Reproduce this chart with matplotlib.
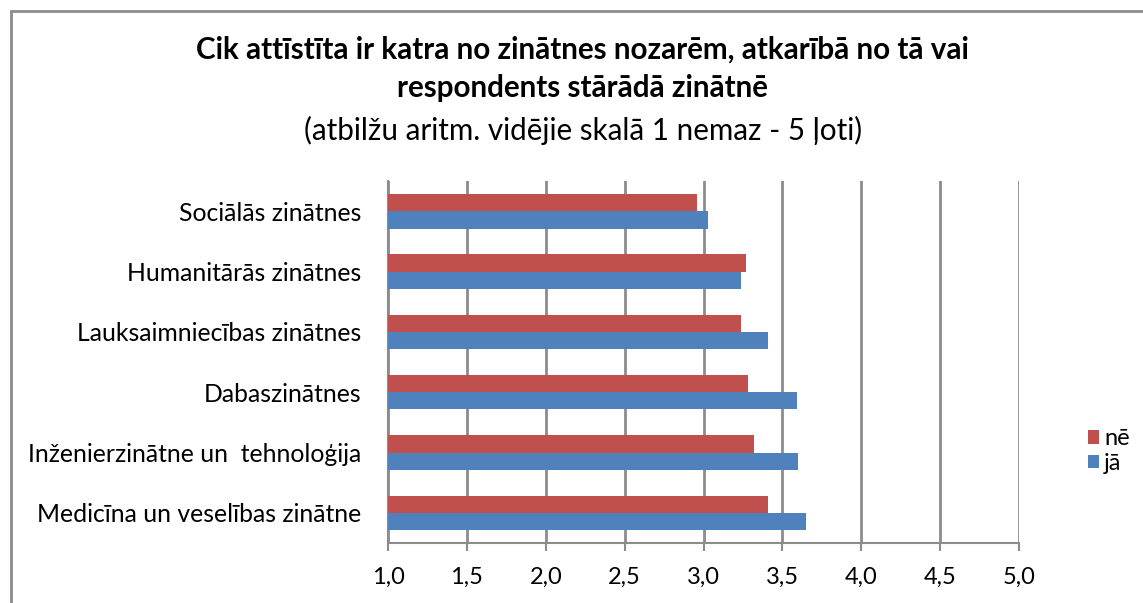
import numpy as np
import matplotlib.pyplot as plt
from matplotlib.patches import Rectangle

plt.rcParams['font.family'] = ['Lato', 'DejaVu Sans']

# Data (bottom to top)
categories = ['Medicīna un veselības zinātne', 'Inženierzinātne un  tehnoloģija',
              'Dabaszinātnes', 'Lauksaimniecības zinātnes',
              'Humanitārās zinātnes', 'Sociālās zinātnes']
ja_values = [3.65, 3.60, 3.59, 3.41, 3.24, 3.03]
ne_values = [3.41, 3.32, 3.28, 3.24, 3.27, 2.96]
xticks = [1.0, 1.5, 2.0, 2.5, 3.0, 3.5, 4.0, 4.5, 5.0]

red = '#C0504D'
blue = '#4F81BD'
gridc = '#8C8C8C'

fig = plt.figure(figsize=(11.43, 6.03), dpi=100)
ax = fig.add_axes([0.3395, 0.0995, 0.552, 0.600])

y = np.arange(len(categories))
h = 0.285
ax.barh(y - h / 2, [v - 1 for v in ja_values], height=h, left=1, color=blue, label='jā', zorder=3)
ax.barh(y + h / 2, [v - 1 for v in ne_values], height=h, left=1, color=red, label='nē', zorder=3)

ax.set_xlim(1, 5)
ax.set_ylim(-0.5, len(categories) - 0.5)
ax.set_xticks(xticks)
ax.set_xticklabels([f'{t:.1f}'.replace('.', ',') for t in xticks], fontsize=17)
ax.set_yticks(y)
ax.set_yticklabels(categories, fontsize=17.8)
ax.tick_params(axis='y', length=0, pad=19)
ax.tick_params(axis='x', length=6, color=gridc, width=1.5, pad=11)

ax.grid(axis='x', color=gridc, linewidth=2, zorder=0)
for s in ['top', 'right']:
    ax.spines[s].set_visible(False)
ax.spines['left'].set_color(gridc)
ax.spines['bottom'].set_color(gridc)
ax.spines['left'].set_linewidth(1.5)
ax.spines['bottom'].set_linewidth(1.5)

handles, labels = ax.get_legend_handles_labels()
fig.legend(handles[::-1], labels[::-1], loc='center left', bbox_to_anchor=(0.933, 0.252),
           frameon=False, fontsize=17, handlelength=0.5, handleheight=0.5,
           handletextpad=0.2, labelspacing=0.15)

fig.text(0.51, 0.917, 'Cik attīstīta ir katra no zinātnes nozarēm, atkarībā no tā vai',
         ha='center', va='center', fontsize=21.3, fontweight='bold')
fig.text(0.51, 0.854, 'respondents stārādā zinātnē',
         ha='center', va='center', fontsize=21.3, fontweight='bold')
fig.text(0.51, 0.783, '(atbilžu aritm. vidējie skalā 1 nemaz - 5 ļoti)',
         ha='center', va='center', fontsize=21.3)

# outer chart border
fig.patches.append(Rectangle((0.0096, -0.01), 1.0, 0.9917, transform=fig.transFigure,
                             fill=False, edgecolor='#8C8C8C', linewidth=2))

fig.savefig('out.png', dpi=100)
plt.close()
